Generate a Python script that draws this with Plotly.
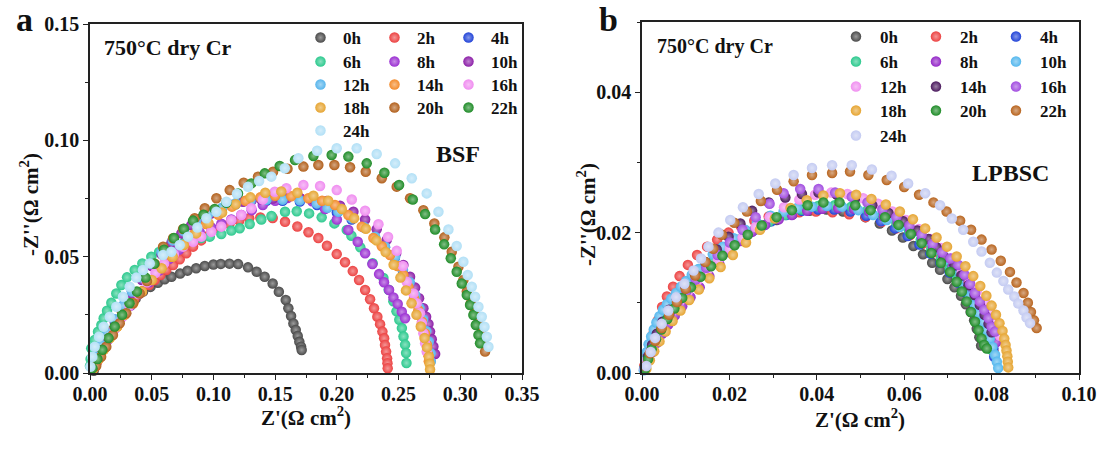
import plotly.graph_objects as go

W, H = 1107, 450

times = ["0h", "2h", "4h", "6h", "8h", "10h", "12h", "14h", "16h", "18h", "20h", "22h", "24h"]

bsf_colors = ["#4a4a4a", "#ec4242", "#2244d8", "#2cc98e", "#9b30d2", "#8c1fa8", "#58b5ec",
              "#f38b2c", "#f08cf0", "#e6a532", "#b2601c", "#1f8c28", "#b2e0f6"]
lp_colors = ["#4a4a4a", "#ec4242", "#2244d8", "#2cc98e", "#9428c8", "#55b8ee", "#f090f0",
             "#4b1a5e", "#a24de0", "#e6a532", "#1f8c28", "#b8641e", "#c4cbf2"]

# ---------------- Panel a : BSF  (Z', -Z'') ----------------
bsf_0h = [[0.003,0.001],[0.005,0.004],[0.007,0.007],[0.010,0.010],[0.013,0.014],[0.017,0.018],[0.021,0.022],
          [0.026,0.026],[0.031,0.029],[0.037,0.032],[0.043,0.035],[0.049,0.037],[0.055,0.0388],[0.0605,0.0403],
          [0.066,0.0414],[0.073,0.0428],[0.079,0.044],[0.086,0.045],[0.093,0.046],[0.100,0.0466],[0.106,0.0469],
          [0.113,0.047],[0.120,0.0468],[0.128,0.0454],[0.135,0.0435],[0.1415,0.0414],[0.148,0.0385],[0.153,0.0349],
          [0.1586,0.0314],[0.1607,0.0278],[0.1629,0.0245],[0.1648,0.0213],[0.1667,0.0185],[0.1683,0.0159],
          [0.1696,0.0134],[0.171,0.0113],[0.1715,0.0099]]
bsf_2h = [[0.003,0.002],[0.006,0.005],[0.009,0.009],[0.013,0.014],[0.017,0.018],[0.021,0.022],[0.026,0.026],
          [0.031,0.029],[0.036,0.032],[0.042,0.035],[0.0478,0.0378],[0.0524,0.040],[0.057,0.0421],[0.0618,0.0443],
          [0.0673,0.0464],[0.0727,0.0489],[0.078,0.0515],[0.0835,0.0543],[0.090,0.057],[0.097,0.0595],[0.105,0.062],
          [0.113,0.064],[0.121,0.0655],[0.129,0.0665],[0.138,0.0668],[0.148,0.0666],[0.158,0.065],[0.168,0.063],
          [0.177,0.0605],[0.185,0.058],[0.192,0.0547],[0.1999,0.0511],[0.2066,0.0476],[0.2129,0.0438],[0.218,0.040],
          [0.2229,0.0357],[0.2269,0.0317],[0.2301,0.0278],[0.2328,0.0242],[0.235,0.021],[0.2369,0.0178],
          [0.2383,0.0149],[0.239,0.012],[0.2399,0.0092],[0.2407,0.0063],[0.241,0.0042],[0.2412,0.002]]
bsf_4h = [[0.002,0.003],[0.005,0.007],[0.009,0.012],[0.014,0.017],[0.020,0.023],[0.027,0.029],[0.034,0.035],
          [0.042,0.041],[0.050,0.047],[0.058,0.052],[0.067,0.057],[0.076,0.061],[0.086,0.065],[0.096,0.068],
          [0.107,0.0705],[0.118,0.0725],[0.130,0.0735],[0.143,0.074],[0.156,0.074],[0.170,0.0737],[0.184,0.0722],
          [0.200,0.069],[0.212,0.066],[0.222,0.0625],[0.231,0.058],[0.239,0.054],[0.247,0.0495],[0.2535,0.044],
          [0.259,0.0385],[0.2635,0.033],[0.267,0.0275],[0.270,0.0225],[0.2725,0.0175],[0.2745,0.013],
          [0.2755,0.0085],[0.2758,0.005]]
bsf_6h = [[0.000,0.003],[0.0005,0.006],[0.001,0.0106],[0.0038,0.0142],[0.0065,0.0177],[0.0092,0.0206],
          [0.0111,0.0235],[0.0138,0.0268],[0.0173,0.0302],[0.0213,0.0342],[0.0254,0.0378],[0.030,0.0411],
          [0.0362,0.0443],[0.0424,0.0471],[0.0497,0.050],[0.056,0.052],[0.063,0.054],[0.070,0.0555],[0.077,0.0565],
          [0.084,0.0573],[0.090,0.058],[0.097,0.0586],[0.1064,0.0597],[0.1145,0.0612],[0.1213,0.0622],
          [0.1294,0.064],[0.1388,0.066],[0.147,0.0675],[0.158,0.0693],[0.1675,0.0695],[0.1775,0.0686],
          [0.1877,0.0669],[0.198,0.0643],[0.208,0.0615],[0.2118,0.059],[0.219,0.054],[0.229,0.0472],[0.2377,0.0408],
          [0.242,0.0358],[0.2458,0.0308],[0.2483,0.0265],[0.2506,0.0229],[0.2527,0.0193],[0.254,0.0157],
          [0.2553,0.0122],[0.2561,0.0086],[0.2564,0.0043]]
bsf_8h = [[0.002,0.002],[0.005,0.005],[0.009,0.009],[0.014,0.014],[0.020,0.019],[0.026,0.024],[0.033,0.029],
          [0.040,0.034],[0.048,0.039],[0.056,0.044],[0.064,0.049],[0.072,0.053],[0.080,0.0575],[0.0889,0.0605],
          [0.0983,0.0625],[0.1064,0.0642],[0.1145,0.066],[0.1226,0.0679],[0.131,0.070],[0.140,0.0722],[0.150,0.074],
          [0.160,0.0752],[0.170,0.0752],[0.180,0.0738],[0.1904,0.0705],[0.200,0.066],[0.2093,0.0615],
          [0.2169,0.0564],[0.2229,0.0515],[0.2288,0.0468],[0.2342,0.0425],[0.2382,0.039],[0.2423,0.0357],
          [0.2458,0.0325],[0.2493,0.0297],[0.2526,0.0263],[0.2553,0.0235]]
bsf_10h = [[0.002,0.002],[0.005,0.006],[0.009,0.011],[0.014,0.016],[0.020,0.022],[0.027,0.028],[0.034,0.034],
           [0.042,0.040],[0.050,0.046],[0.058,0.051],[0.066,0.056],[0.074,0.060],[0.082,0.0635],[0.0902,0.0665],
           [0.0983,0.0686],[0.1064,0.070],[0.1145,0.0722],[0.124,0.0736],[0.131,0.0742],[0.1388,0.0746],
           [0.1483,0.075],[0.1578,0.0752],[0.1702,0.0751],[0.181,0.0746],[0.1918,0.0739],[0.2026,0.0719],
           [0.2134,0.0693],[0.2229,0.066],[0.2323,0.0618],[0.2404,0.0572],[0.248,0.0514],[0.2539,0.0464],
           [0.2593,0.0414],[0.2634,0.0367],[0.2666,0.0321],[0.2701,0.0278],[0.2723,0.0242],[0.2742,0.0211],
           [0.2755,0.0178],[0.2769,0.0145],[0.2782,0.0114],[0.2796,0.0082]]
bsf_12h = [[0.002,0.003],[0.005,0.007],[0.009,0.012],[0.014,0.017],[0.020,0.023],[0.027,0.029],[0.034,0.035],
           [0.042,0.041],[0.050,0.047],[0.058,0.052],[0.067,0.057],[0.076,0.061],[0.086,0.065],[0.096,0.0685],
           [0.107,0.071],[0.118,0.073],[0.130,0.074],[0.143,0.0745],[0.156,0.0745],[0.170,0.0742],[0.1837,0.0729],
           [0.1925,0.071],[0.2012,0.0693],[0.2121,0.0665],[0.222,0.0628],[0.231,0.0586],[0.239,0.0543],
           [0.2472,0.050],[0.2535,0.0445],[0.259,0.039],[0.2635,0.0335],[0.267,0.028],[0.270,0.023],
           [0.2725,0.018],[0.2745,0.0135],[0.276,0.0085],[0.2761,0.0049]]
bsf_14h = [[0.003,0.002],[0.007,0.006],[0.011,0.010],[0.016,0.015],[0.022,0.020],[0.028,0.025],[0.035,0.030],
           [0.042,0.035],[0.050,0.040],[0.058,0.045],[0.066,0.050],[0.075,0.055],[0.084,0.0595],[0.094,0.064],
           [0.104,0.068],[0.115,0.0715],[0.126,0.074],[0.138,0.0755],[0.150,0.0762],[0.163,0.076],[0.1769,0.0751],
           [0.188,0.074],[0.1985,0.0722],[0.2093,0.0679],[0.2202,0.0629],[0.2296,0.058],[0.2364,0.0545],
           [0.2431,0.0507],[0.249,0.046],[0.2539,0.0421],[0.258,0.037],[0.2625,0.032],[0.266,0.027],[0.269,0.022],
           [0.2715,0.017],[0.273,0.012],[0.274,0.008],[0.2745,0.005]]
bsf_16h = [[0.002,0.002],[0.006,0.006],[0.010,0.010],[0.015,0.015],[0.020,0.019],[0.026,0.024],[0.032,0.029],
           [0.039,0.034],[0.046,0.039],[0.053,0.043],[0.060,0.047],[0.068,0.051],[0.0754,0.0543],[0.0835,0.0564],
           [0.0902,0.0586],[0.0983,0.0607],[0.1064,0.0629],[0.1145,0.0657],[0.1226,0.0679],[0.1307,0.0708],
           [0.140,0.0745],[0.1497,0.0779],[0.1591,0.0794],[0.1729,0.0808],[0.1864,0.0804],[0.1999,0.0786],
           [0.2121,0.0746],[0.2229,0.0697],[0.2337,0.0639],[0.2415,0.0585],[0.2485,0.0525],[0.2535,0.046],
           [0.2566,0.0392],[0.262,0.0342],[0.2647,0.030],[0.2674,0.0257],[0.2688,0.0214],[0.2701,0.0171],
           [0.2715,0.0128],[0.2728,0.0092]]
bsf_18h = [[0.003,0.002],[0.007,0.006],[0.011,0.010],[0.016,0.015],[0.022,0.020],[0.028,0.025],[0.035,0.030],
           [0.042,0.035],[0.050,0.040],[0.058,0.045],[0.067,0.050],[0.076,0.055],[0.086,0.060],[0.096,0.0645],
           [0.107,0.069],[0.118,0.0725],[0.130,0.0755],[0.142,0.0775],[0.155,0.078],[0.168,0.0775],[0.181,0.0762],
           [0.193,0.074],[0.204,0.0705],[0.214,0.0665],[0.2235,0.062],[0.232,0.057],[0.2395,0.052],[0.246,0.0465],
           [0.2515,0.041],[0.256,0.0355],[0.2605,0.030],[0.2645,0.025],[0.268,0.020],[0.271,0.015],[0.273,0.011],
           [0.2745,0.007],[0.2752,0.004],[0.2755,0.0015]]
bsf_20h = [[0.005,0.003],[0.009,0.007],[0.0132,0.0113],[0.0186,0.0163],[0.0241,0.0214],[0.0294,0.0257],
           [0.0348,0.030],[0.0403,0.0342],[0.0462,0.0395],[0.0524,0.047],[0.0592,0.0543],[0.0673,0.0579],
           [0.0754,0.0619],[0.0848,0.0665],[0.093,0.0708],[0.1024,0.0751],[0.1132,0.0786],[0.1245,0.0818],
           [0.1361,0.0844],[0.1483,0.0865],[0.160,0.0878],[0.1729,0.0887],[0.185,0.0894],[0.198,0.0894],
           [0.2107,0.0884],[0.2234,0.0865],[0.2364,0.0837],[0.2485,0.0801],[0.2593,0.0751],[0.2701,0.070],
           [0.279,0.0643],[0.2871,0.0583],[0.2931,0.0521],[0.2985,0.0457],[0.3025,0.040],[0.3053,0.035],
           [0.3085,0.030],[0.3114,0.0257],[0.3142,0.0214],[0.3169,0.0171],[0.3187,0.0128],[0.3201,0.0092]]
bsf_22h = [[0.002,0.002],[0.006,0.006],[0.010,0.010],[0.015,0.015],[0.020,0.020],[0.026,0.025],[0.032,0.030],
           [0.038,0.035],[0.045,0.041],[0.052,0.047],[0.060,0.053],[0.068,0.058],[0.076,0.062],[0.0835,0.0655],
           [0.092,0.068],[0.101,0.0705],[0.1105,0.0732],[0.1199,0.0772],[0.1307,0.0815],[0.1416,0.0858],
           [0.1537,0.089],[0.1661,0.0915],[0.181,0.0933],[0.1958,0.0937],[0.2093,0.093],[0.2242,0.0901],
           [0.2385,0.0861],[0.2504,0.0808],[0.2615,0.0746],[0.2715,0.0683],[0.2796,0.0617],[0.2869,0.0553],
           [0.2923,0.0493],[0.2971,0.0435],[0.3012,0.0385],[0.3053,0.0335],[0.3079,0.0292],[0.3106,0.0249],
           [0.3126,0.0206],[0.3147,0.0163],[0.316,0.0128]]
bsf_24h = [[0.0003,0.0027],[0.0019,0.007],[0.0038,0.0113],[0.0073,0.0156],[0.0111,0.0199],[0.016,0.0242],
           [0.0213,0.0285],[0.0267,0.0328],[0.0321,0.0371],[0.0375,0.041],[0.0429,0.0443],[0.0484,0.0471],
           [0.0592,0.0507],[0.0659,0.0521],[0.0727,0.055],[0.0794,0.0586],[0.087,0.0625],[0.0943,0.0665],
           [0.1024,0.0693],[0.1105,0.0736],[0.119,0.077],[0.128,0.080],[0.137,0.0825],[0.1469,0.0844],
           [0.1578,0.088],[0.1688,0.0923],[0.184,0.0955],[0.1999,0.0966],[0.2161,0.0966],[0.2323,0.0941],
           [0.2472,0.0901],[0.2607,0.0837],[0.2728,0.0772],[0.2823,0.0693],[0.2904,0.0617],[0.2971,0.0546],
           [0.3025,0.0478],[0.306,0.0421],[0.3093,0.0371],[0.312,0.0328],[0.3147,0.0285],[0.3174,0.0242],
           [0.3196,0.0199],[0.3215,0.0156],[0.3228,0.0113]]

# ---------------- Panel b : LPBSC ----------------
lp_0h = [[0.0006,0.0005],[0.0012,0.002],[0.002,0.0035],[0.003,0.005],[0.0042,0.0065],[0.0056,0.008],
         [0.0072,0.0095],[0.009,0.011],[0.011,0.0125],[0.0132,0.014],[0.0156,0.0155],[0.0182,0.0169],
         [0.021,0.0183],[0.024,0.0196],[0.0273,0.0208],[0.0308,0.0218],[0.0345,0.0226],[0.0383,0.0231],
         [0.0422,0.0233],[0.046,0.023],[0.0511,0.0222],[0.0544,0.0213],[0.0572,0.0203],[0.0597,0.0193],
         [0.0621,0.0181],[0.0643,0.0169],[0.0664,0.0157],[0.0682,0.0147],[0.0699,0.0134],[0.0715,0.0122],
         [0.073,0.011],[0.0741,0.0098],[0.0752,0.0087],[0.076,0.0075],[0.0766,0.0063],[0.0772,0.0051],
         [0.0776,0.0039]]
lp_2h = [[0.0005,0.001],[0.001,0.0025],[0.0018,0.004],[0.0027,0.0058],[0.0036,0.0075],[0.0046,0.0094],
         [0.0057,0.0109],[0.0071,0.0123],[0.0086,0.0138],[0.0105,0.0154],[0.0126,0.0168],[0.0149,0.018],
         [0.0172,0.019],[0.0198,0.020],[0.0226,0.0209],[0.0257,0.0217],[0.029,0.0223],[0.0325,0.0227],
         [0.036,0.0229],[0.0398,0.023],[0.0436,0.0229],[0.0474,0.0226],[0.0512,0.0222],[0.0548,0.0215],
         [0.0582,0.0206],[0.0613,0.0196],[0.0642,0.0184],[0.0668,0.0172],[0.0692,0.0158],[0.0713,0.0144],
         [0.0732,0.013],[0.0749,0.0116],[0.0763,0.0101],[0.0776,0.0086],[0.0786,0.0071],[0.0794,0.0056],
         [0.080,0.0042],[0.0805,0.003]]
lp_4h = [[0.0005,0.0006],[0.001,0.0018],[0.0016,0.0031],[0.0023,0.0044],[0.0031,0.0057],[0.004,0.007],
         [0.005,0.0082],[0.0062,0.0094],[0.0076,0.0106],[0.0092,0.0118],[0.011,0.013],[0.013,0.0142],
         [0.0152,0.0154],[0.0176,0.0166],[0.0203,0.0178],[0.0232,0.0192],[0.0263,0.0205],[0.0296,0.0216],
         [0.033,0.0225],[0.0366,0.0231],[0.0403,0.0233],[0.044,0.0233],[0.0477,0.023],[0.0513,0.0224],
         [0.0547,0.0216],[0.0579,0.0206],[0.0608,0.0195],[0.0635,0.0183],[0.066,0.017],[0.0683,0.0157],
         [0.0704,0.0143],[0.0723,0.0129],[0.074,0.0115],[0.0756,0.0101],[0.0769,0.0087],[0.078,0.0073],
         [0.079,0.006],[0.0798,0.0047],[0.0804,0.0035],[0.0806,0.0023]]
lp_6h = [[0.0006,0.0008],[0.0012,0.0022],[0.0019,0.0036],[0.0028,0.005],[0.0038,0.0064],[0.005,0.0078],
         [0.0064,0.0092],[0.008,0.0106],[0.0098,0.012],[0.0118,0.0134],[0.014,0.0148],[0.0165,0.0162],
         [0.0192,0.0176],[0.0222,0.019],[0.0255,0.0203],[0.029,0.0215],[0.0327,0.0225],[0.0365,0.0233],
         [0.0403,0.0238],[0.0441,0.0239],[0.0479,0.0237],[0.0516,0.0232],[0.055,0.0224],[0.0582,0.0214],
         [0.0611,0.0203],[0.0638,0.019],[0.0662,0.0177],[0.0684,0.0163],[0.0704,0.0149],[0.0722,0.0135],
         [0.0738,0.0121],[0.0752,0.0107],[0.0764,0.0093],[0.0774,0.008],[0.0782,0.0067],[0.0789,0.0055],
         [0.0794,0.0044],[0.0797,0.0034]]
lp_8h = [[0.0008,0.0006],[0.0015,0.0018],[0.0024,0.003],[0.0034,0.0043],[0.0046,0.0056],[0.006,0.0069],
         [0.0075,0.0082],[0.0092,0.0095],[0.0111,0.0108],[0.0132,0.0122],[0.0154,0.0138],[0.0177,0.0155],
         [0.020,0.0172],[0.0225,0.0188],[0.0252,0.0201],[0.0282,0.0211],[0.0313,0.0219],[0.0343,0.0225],
         [0.0378,0.0231],[0.0413,0.0234],[0.0449,0.0235],[0.0485,0.0234],[0.052,0.023],[0.0553,0.0223],
         [0.0585,0.0214],[0.0614,0.0203],[0.0641,0.0191],[0.0666,0.0178],[0.0689,0.0164],[0.071,0.015],
         [0.0729,0.0136],[0.0746,0.0122],[0.0761,0.0108],[0.0775,0.0094],[0.0787,0.008],[0.0797,0.0067],
         [0.0805,0.0055],[0.0811,0.0044]]
lp_10h = [[0.0004,0.0004],[0.0008,0.0019],[0.0011,0.003],[0.0015,0.0041],[0.0021,0.0052],[0.0027,0.0062],
          [0.0033,0.0072],[0.004,0.0081],[0.0048,0.009],[0.0057,0.0098],[0.0067,0.0106],[0.0078,0.0114],
          [0.0089,0.0123],[0.0101,0.0131],[0.0114,0.014],[0.0129,0.0148],[0.0144,0.0157],[0.0162,0.0169],
          [0.0185,0.018],[0.021,0.0192],[0.0236,0.0204],[0.0263,0.0214],[0.0294,0.0224],[0.0324,0.023],
          [0.0355,0.0235],[0.0389,0.0237],[0.0423,0.0238],[0.0458,0.0237],[0.0495,0.0232],[0.0529,0.0225],
          [0.056,0.0218],[0.059,0.0208],[0.0617,0.0199],[0.0644,0.0187],[0.0669,0.0175],[0.0692,0.0161],
          [0.0709,0.0146],[0.0724,0.0132],[0.0738,0.0121],[0.0751,0.0109],[0.0762,0.0097],[0.0771,0.0085],
          [0.0781,0.0073],[0.0789,0.0061],[0.0796,0.0049],[0.0802,0.0037],[0.0808,0.0026],[0.0812,0.0016],
          [0.0815,0.0007]]
lp_12h = [[0.0006,0.0006],[0.0012,0.0019],[0.002,0.0032],[0.003,0.0046],[0.0041,0.006],[0.0054,0.0074],
          [0.0069,0.0088],[0.0086,0.0102],[0.0105,0.0116],[0.0126,0.0131],[0.0149,0.0146],[0.0174,0.0161],
          [0.0201,0.0177],[0.023,0.0193],[0.026,0.0208],[0.0292,0.0222],[0.0325,0.0236],[0.036,0.0247],
          [0.0396,0.0254],[0.0433,0.0257],[0.047,0.0255],[0.0506,0.0249],[0.054,0.0241],[0.0573,0.023],
          [0.0604,0.0218],[0.0633,0.0205],[0.066,0.0191],[0.0684,0.0178],[0.0707,0.0163],[0.0732,0.0144],
          [0.075,0.013],[0.0766,0.0116],[0.0785,0.0102],[0.0796,0.0087],[0.0806,0.0075],[0.0814,0.0064],
          [0.0819,0.0053]]
lp_14h = [[0.0007,0.0008],[0.0014,0.0024],[0.0023,0.004],[0.0034,0.0056],[0.0047,0.0073],[0.0062,0.009],
          [0.0079,0.0107],[0.0099,0.0124],[0.0121,0.0141],[0.0145,0.0158],[0.0171,0.0176],[0.0198,0.0194],
          [0.0225,0.0213],[0.0252,0.0231],[0.029,0.0243],[0.0328,0.025],[0.0366,0.0255],[0.0404,0.0257],
          [0.0446,0.0254],[0.0487,0.0248],[0.0527,0.0239],[0.0564,0.0228],[0.0598,0.0216],[0.063,0.0203],
          [0.0656,0.0191],[0.0674,0.0179],[0.0692,0.0165],[0.0715,0.0153],[0.0731,0.0139],[0.0747,0.0125],
          [0.0761,0.0111],[0.0773,0.0097],[0.0784,0.0083],[0.0793,0.007],[0.080,0.0058]]
lp_16h = [[0.0008,0.0007],[0.0016,0.0021],[0.0025,0.0036],[0.0036,0.0051],[0.0049,0.0067],[0.0064,0.0083],
          [0.0081,0.0099],[0.0101,0.0116],[0.0123,0.0133],[0.0147,0.015],[0.0173,0.0168],[0.0201,0.0186],
          [0.023,0.0204],[0.026,0.0222],[0.0292,0.0241],[0.0324,0.0256],[0.0362,0.0262],[0.0404,0.0262],
          [0.0442,0.0257],[0.048,0.0251],[0.0516,0.0243],[0.055,0.0233],[0.0582,0.0222],[0.0612,0.021],
          [0.064,0.0197],[0.0665,0.0184],[0.0687,0.0172],[0.0706,0.0163],[0.0724,0.0154],[0.0738,0.014],
          [0.0751,0.0127],[0.0762,0.0114],[0.0773,0.0102],[0.0783,0.009],[0.0793,0.0078],[0.080,0.0066],
          [0.0808,0.0059]]
lp_18h = [[0.001,0.0006],[0.0018,0.0018],[0.0028,0.0031],[0.004,0.0045],[0.0054,0.0059],[0.007,0.0074],
          [0.0088,0.0089],[0.0108,0.0104],[0.013,0.0119],[0.0154,0.0135],[0.018,0.0151],[0.0208,0.0168],
          [0.0238,0.0186],[0.027,0.0204],[0.0304,0.022],[0.034,0.0235],[0.0377,0.0246],[0.0415,0.0253],
          [0.0453,0.0256],[0.049,0.0254],[0.0525,0.0248],[0.0558,0.024],[0.059,0.023],[0.062,0.0219],
          [0.0648,0.0206],[0.0674,0.0193],[0.0698,0.018],[0.072,0.0166],[0.074,0.0152],[0.0758,0.0138],
          [0.0774,0.0124],[0.0788,0.011],[0.080,0.0096],[0.081,0.0083],[0.0818,0.0071],[0.0825,0.006],
          [0.0829,0.0049],[0.0832,0.004],[0.0834,0.0032],[0.0836,0.0024],[0.0837,0.0016],[0.0838,0.0008]]
lp_20h = [[0.0007,0.0006],[0.0014,0.002],[0.0022,0.0034],[0.0032,0.0048],[0.0044,0.0062],[0.0058,0.0077],
          [0.0074,0.0092],[0.0092,0.0107],[0.0112,0.0122],[0.0134,0.0137],[0.0158,0.0152],[0.0184,0.0167],
          [0.0212,0.0182],[0.0242,0.0197],[0.0274,0.021],[0.0308,0.0222],[0.0343,0.0232],[0.0379,0.0239],
          [0.0415,0.0243],[0.0452,0.0243],[0.0488,0.0239],[0.0523,0.0232],[0.0556,0.0222],[0.0587,0.0211],
          [0.0615,0.0198],[0.064,0.0185],[0.0662,0.0171],[0.0684,0.0157],[0.0705,0.0144],[0.072,0.013],
          [0.0732,0.0116],[0.0743,0.0102],[0.0753,0.0087],[0.0762,0.0073],[0.077,0.0061],[0.0777,0.0049],
          [0.0783,0.004],[0.0789,0.0035]]
lp_22h = [[0.0008,0.001],[0.0018,0.0028],[0.003,0.0046],[0.0045,0.0064],[0.0062,0.0083],[0.008,0.0101],
          [0.010,0.012],[0.0122,0.0139],[0.0145,0.0158],[0.0163,0.0177],[0.0183,0.0197],[0.0211,0.0214],
          [0.024,0.023],[0.0272,0.0245],[0.0309,0.0261],[0.0347,0.0273],[0.0389,0.0282],[0.0435,0.0285],
          [0.0476,0.0287],[0.0518,0.0282],[0.056,0.0275],[0.060,0.0265],[0.0634,0.0254],[0.0667,0.0243],
          [0.0697,0.023],[0.0728,0.0217],[0.0753,0.0204],[0.0777,0.019],[0.080,0.0176],[0.0821,0.016],
          [0.0842,0.0144],[0.0857,0.0129],[0.0873,0.0114],[0.0883,0.010],[0.089,0.0087],[0.0897,0.0075],
          [0.0903,0.0064]]
lp_24h = [[0.001,0.001],[0.002,0.003],[0.003,0.005],[0.0045,0.007],[0.006,0.0089],[0.0078,0.0108],
          [0.0097,0.0127],[0.0118,0.0146],[0.0135,0.0163],[0.0152,0.018],[0.0175,0.020],[0.0202,0.0218],
          [0.0231,0.0236],[0.0267,0.0255],[0.0305,0.027],[0.0347,0.0282],[0.0389,0.0292],[0.0435,0.0296],
          [0.048,0.0296],[0.0526,0.029],[0.0571,0.0281],[0.0609,0.027],[0.0648,0.0256],[0.0682,0.0239],
          [0.0709,0.022],[0.0735,0.0204],[0.0758,0.0187],[0.0777,0.0173],[0.0796,0.0157],[0.0812,0.0143],
          [0.0827,0.0131],[0.0838,0.0119],[0.0852,0.0109],[0.0861,0.0099],[0.0873,0.0089],[0.088,0.0079],
          [0.0888,0.0071]]

bsf_series = [bsf_0h, bsf_2h, bsf_4h, bsf_6h, bsf_8h, bsf_10h, bsf_12h, bsf_14h, bsf_16h, bsf_18h,
              bsf_20h, bsf_22h, bsf_24h]
lp_series = [lp_0h, lp_2h, lp_4h, lp_6h, lp_8h, lp_10h, lp_12h, lp_14h, lp_16h, lp_18h,
             lp_20h, lp_22h, lp_24h]

a_xticks = [0.00, 0.05, 0.10, 0.15, 0.20, 0.25, 0.30, 0.35]
a_yticks = [0.00, 0.05, 0.10, 0.15]
b_xticks = [0.00, 0.02, 0.04, 0.06, 0.08, 0.10]
b_yticks = [0.00, 0.02, 0.04]

FONT = "Liberation Serif"


def lighten(hexc, f=0.65):
    hexc = hexc.lstrip("#")
    r, g, b = int(hexc[0:2], 16), int(hexc[2:4], 16), int(hexc[4:6], 16)
    r = int(r + (255 - r) * f); g = int(g + (255 - g) * f); b = int(b + (255 - b) * f)
    return "#%02x%02x%02x" % (r, g, b)


fig = go.Figure()

rows_a = [38, 62, 85, 108, 131]
rows_b = [37, 62, 87, 111, 136]


def legend_id(k):
    return "legend" if k == 1 else "legend%d" % k


def add_panel(series, colors, xa, ya, legend_offset):
    for i, (name, pts) in enumerate(zip(times, series)):
        row = i // 3
        fig.add_trace(go.Scatter(
            x=[p[0] for p in pts], y=[p[1] for p in pts],
            mode="markers", name=name, xaxis=xa, yaxis=ya,
            legend=legend_id(legend_offset + row + 1),
            cliponaxis=False,
            marker=dict(size=10.5, color=colors[i], line=dict(width=0),
                        gradient=dict(type="radial", color=lighten(colors[i], 0.45))),
        ))


add_panel(bsf_series, bsf_colors, "x", "y", 0)
add_panel(lp_series, lp_colors, "x2", "y2", 5)

axis_common = dict(showline=True, linecolor="#222", linewidth=1.6, mirror=True, ticks="outside",
                   ticklen=5, tickwidth=1.4, tickcolor="#222", showgrid=False, zeroline=False,
                   tickformat=".2f", automargin=False,
                   tickfont=dict(family=FONT, size=20, color="#111", weight="bold"))
xminor_a = dict(dtick=0.025, tick0=0, ticks="outside", ticklen=3, tickcolor="#222")
xminor_b = dict(dtick=0.01, tick0=0, ticks="outside", ticklen=3, tickcolor="#222")

layout = dict(
    width=W, height=H, margin=dict(l=0, r=0, t=0, b=0, autoexpand=False),
    paper_bgcolor="white", plot_bgcolor="white", showlegend=True,
    xaxis=dict(domain=[90 / W, 522 / W], anchor="y", range=[0, 0.35], tickvals=a_xticks,
               minor=xminor_a, ticklabelstandoff=-3, **axis_common),
    yaxis=dict(domain=[1 - 373 / H, 1 - 24 / H], anchor="x", range=[0, 0.15], tickvals=a_yticks,
               minor=xminor_a, **axis_common),
    xaxis2=dict(domain=[642 / W, 1079 / W], anchor="y2", range=[0, 0.10], tickvals=b_xticks,
                minor=xminor_b, ticklabelstandoff=-3, **axis_common),
    yaxis2=dict(domain=[1 - 373 / H, 1 - 22 / H], anchor="x2", range=[0, 0.05], tickvals=b_yticks,
                minor=xminor_b, **axis_common),
)

leg_font = dict(family=FONT, size=17, color="#111", weight="bold")
for r, yy in enumerate(rows_a):
    layout[legend_id(r + 1)] = dict(orientation="h", x=(318 - 20) / W, y=1 - yy / H, xanchor="left",
                                    yanchor="middle", bgcolor="rgba(0,0,0,0)", font=leg_font,
                                    entrywidth=24, itemwidth=35, tracegroupgap=0, traceorder="normal")
for r, yy in enumerate(rows_b):
    layout[legend_id(r + 6)] = dict(orientation="h", x=(852 - 20) / W, y=1 - yy / H, xanchor="left",
                                    yanchor="middle", bgcolor="rgba(0,0,0,0)", font=leg_font,
                                    entrywidth=27, itemwidth=38, tracegroupgap=0, traceorder="normal")

fig.update_layout(**layout)

ann_font = dict(family=FONT, color="#111", weight="bold")
annotations = [
    dict(text="a", x=24 / W, y=1 - 20 / H, font=dict(size=34, **ann_font)),
    dict(text="b", x=608 / W, y=1 - 20 / H, font=dict(size=34, **ann_font)),
    dict(text="750°C dry Cr", x=168 / W, y=1 - 47 / H, font=dict(size=22, **ann_font)),
    dict(text="750°C dry Cr", x=715 / W, y=1 - 46 / H, font=dict(size=20, **ann_font)),
    dict(text="BSF", x=458 / W, y=1 - 154 / H, font=dict(size=24, **ann_font)),
    dict(text="LPBSC", x=1010 / W, y=1 - 173 / H, font=dict(size=24, **ann_font)),
    dict(text="Z'(Ω cm<sup>2</sup>)", x=306 / W, y=1 - 416 / H, font=dict(size=21, **ann_font)),
    dict(text="Z'(Ω cm<sup>2</sup>)", x=860 / W, y=1 - 418 / H, font=dict(size=21, **ann_font)),
    dict(text="-Z''(Ω cm<sup>2</sup>)", x=30 / W, y=1 - 205 / H, textangle=-90, font=dict(size=21, **ann_font)),
    dict(text="-Z''(Ω cm<sup>2</sup>)", x=586 / W, y=1 - 215 / H, textangle=-90, font=dict(size=21, **ann_font)),
]
for a in annotations:
    a.update(xref="paper", yref="paper", showarrow=False, xanchor="center", yanchor="middle")
fig.update_layout(annotations=annotations)

fig.write_html("out.html")
